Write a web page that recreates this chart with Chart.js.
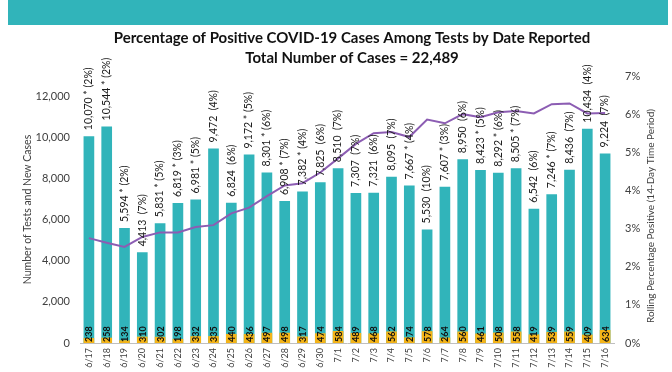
<!DOCTYPE html>
<html>
<head>
<meta charset="utf-8">
<script src="https://cdn.jsdelivr.net/npm/chart.js@4"></script>
<style>
    body { margin: 0; background: #fff; }
</style>
</head>
<body>
<canvas id="posChart" width="672" height="372"></canvas>
<script>
const dates = ["6/17", "6/18", "6/19", "6/20", "6/21", "6/22", "6/23", "6/24", "6/25", "6/26",
    "6/27", "6/28", "6/29", "6/30", "7/1", "7/2", "7/3", "7/4", "7/5", "7/6",
    "7/7", "7/8", "7/9", "7/10", "7/11", "7/12", "7/13", "7/14", "7/15", "7/16"];

const tests = [10070, 10544, 5594, 4413, 5831, 6819, 6981, 9472, 6824, 9172,
    8301, 6908, 7382, 7825, 8510, 7307, 7321, 8095, 7667, 5530,
    7607, 8950, 8423, 8292, 8505, 6542, 7246, 8436, 10434, 9224];

const cases = [238, 258, 134, 310, 302, 198, 332, 335, 440, 436,
    497, 498, 317, 474, 584, 489, 468, 562, 274, 578,
    264, 560, 461, 508, 558, 419, 539, 559, 409, 634];

const dailyPct = [2, 2, 2, 7, 5, 3, 5, 4, 6, 5,
    6, 7, 4, 6, 7, 7, 6, 7, 4, 10,
    3, 6, 5, 6, 7, 6, 7, 7, 4, 7];

// 1 = value marked with an asterisk
const starred = [1, 1, 1, 0, 1, 1, 1, 0, 0, 1,
    1, 1, 1, 0, 0, 0, 0, 0, 1, 0,
    1, 0, 1, 1, 1, 0, 1, 0, 0, 0];

const rollingPct = [2.75, 2.63, 2.52, 2.78, 2.9, 2.9, 3.04, 3.09, 3.4, 3.55,
    3.85, 4.13, 4.19, 4.47, 4.84, 5.22, 5.5, 5.53, 5.4, 5.86,
    5.76, 6.0, 5.92, 6.05, 6.08, 6.02, 6.26, 6.28, 6.02, 6.03];

const leftTickValues = [0, 2000, 4000, 6000, 8000, 10000, 12000];
const leftMax = 13000;
const rightTickValues = [0, 1, 2, 3, 4, 5, 6, 7];

const TEAL = "#31b4ba";
const GOLD = "#f4b418";
const PURPLE = "#8c5db3";
const FONT = "Lato";

// banner, titles and right axis title
const decorPlugin = {
    id: "decor",
    beforeDraw(chart) {
        const ctx = chart.ctx;
        ctx.save();
        ctx.fillStyle = TEAL;
        ctx.fillRect(8, 0, 660, 25);

        ctx.fillStyle = "#111";
        ctx.textAlign = "center";
        ctx.textBaseline = "middle";
        ctx.font = `bold 15px ${FONT}`;
        ctx.fillText("Percentage of Positive COVID-19 Cases Among Tests by Date Reported", 352, 38);
        ctx.fillText("Total Number of Cases = 22,489", 352, 58);

        ctx.translate(651, 216);
        ctx.rotate(-Math.PI / 2);
        ctx.fillStyle = "#404040";
        ctx.font = `10px ${FONT}`;
        ctx.fillText("Rolling Percentage Positive (14-Day Time Period)", 0, 0);
        ctx.restore();
    }
};

// vertical value labels
const labelPlugin = {
    id: "barLabels",
    afterDatasetsDraw(chart) {
        const ctx = chart.ctx;
        const tealMeta = chart.getDatasetMeta(0);
        const goldMeta = chart.getDatasetMeta(1);
        ctx.save();
        ctx.textAlign = "left";
        ctx.textBaseline = "middle";

        tealMeta.data.forEach((bar, i) => {
            const txt = tests[i].toLocaleString("en-US") + (starred[i] ? " * " : "  ") + "(" + dailyPct[i] + "%)";
            ctx.save();
            ctx.translate(bar.x, bar.y - 6);
            ctx.rotate(-Math.PI / 2);
            ctx.font = `10.5px ${FONT}`;
            ctx.fillStyle = "#1a1a1a";
            ctx.fillText(txt, 0, 0);
            ctx.restore();
        });

        goldMeta.data.forEach((bar, i) => {
            ctx.save();
            ctx.translate(bar.x, chart.chartArea.bottom - 1);
            ctx.rotate(-Math.PI / 2);
            ctx.font = `bold 9px ${FONT}`;
            ctx.fillStyle = "#111";
            ctx.fillText(String(cases[i]), 0, 0.5);
            ctx.restore();
        });
        ctx.restore();
    }
};

new Chart(document.getElementById("posChart"), {
    data: {
        labels: dates,
        datasets: [
            {
                type: "bar",
                data: tests,
                backgroundColor: TEAL,
                grouped: false,
                order: 3,
                barPercentage: 0.6,
                categoryPercentage: 1,
                yAxisID: "y"
            },
            {
                type: "bar",
                data: cases,
                backgroundColor: GOLD,
                grouped: false,
                order: 2,
                barPercentage: 0.6,
                categoryPercentage: 1,
                yAxisID: "y"
            },
            {
                type: "line",
                data: rollingPct,
                borderColor: PURPLE,
                borderWidth: 2,
                pointRadius: 0,
                tension: 0,
                order: 1,
                yAxisID: "y1"
            }
        ]
    },
    options: {
        responsive: false,
        animation: false,
        layout: { padding: { top: 76, left: 0, right: 0, bottom: 0 } },
        plugins: {
            legend: { display: false },
            tooltip: { enabled: false }
        },
        scales: {
            x: {
                grid: { display: false, drawTicks: false },
                border: { display: true, color: "#bfbfbf", width: 1 },
                ticks: {
                    minRotation: 90,
                    maxRotation: 90,
                    autoSkip: false,
                    padding: 5,
                    color: "#404040",
                    font: { family: FONT, size: 9 }
                },
                afterFit(scale) { scale.height = 29; }
            },
            y: {
                position: "left",
                min: 0,
                max: leftMax,
                grid: { display: false, drawTicks: false },
                border: { display: false },
                ticks: {
                    padding: 10,
                    color: "#404040",
                    font: { family: FONT, size: 11 },
                    callback: v => v.toLocaleString("en-US")
                },
                afterBuildTicks(scale) {
                    scale.ticks = leftTickValues.map(v => ({ value: v }));
                },
                title: {
                    display: true,
                    text: "Number of Tests and New Cases",
                    color: "#404040",
                    font: { family: FONT, size: 10.5 },
                    padding: { top: 21, bottom: 0 }
                },
                afterFit(scale) { scale.width = 80; }
            },
            y1: {
                position: "right",
                min: 0,
                max: 7,
                grid: { display: false, drawTicks: false },
                border: { display: false },
                ticks: {
                    padding: 11,
                    color: "#404040",
                    font: { family: FONT, size: 11 },
                    callback: v => v + "%"
                },
                afterBuildTicks(scale) {
                    scale.ticks = rightTickValues.map(v => ({ value: v }));
                },
                afterFit(scale) { scale.width = 58; }
            }
        }
    },
    plugins: [decorPlugin, labelPlugin]
});
</script>
</body>
</html>
